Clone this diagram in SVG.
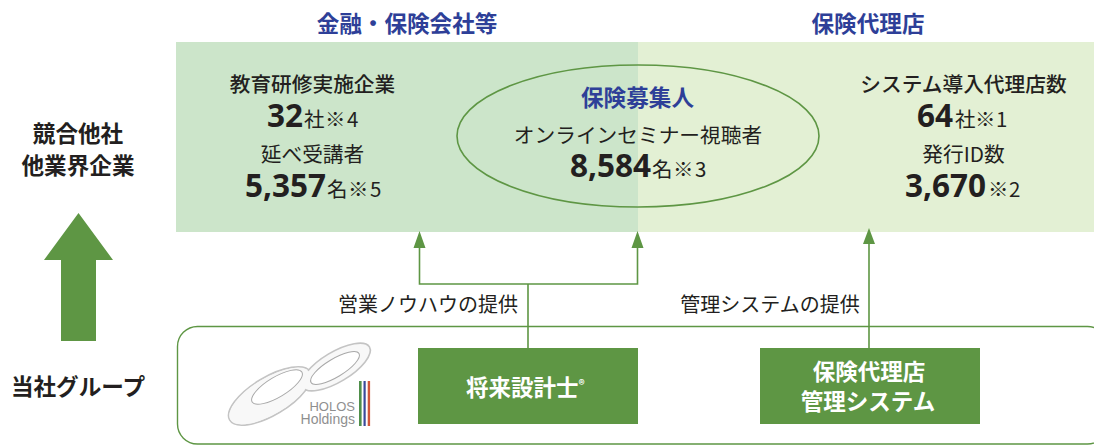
<svg xmlns="http://www.w3.org/2000/svg" width="1094" height="445" viewBox="0 0 1094 445">
<style>
text{font-family:"Noto Sans CJK JP","Noto Sans",sans-serif;fill:#231f20;text-anchor:middle}
.h{font-size:22.6px;font-weight:700;fill:#2e3f98}
.l{font-size:20.7px;font-weight:500}
.m{font-size:20.7px;font-weight:400}
.b{font-size:22.6px;font-weight:700}
.s{text-anchor:start}
.n{font-size:31.5px;font-weight:700;font-family:"Noto Sans","Noto Sans CJK JP",sans-serif}
.u{font-size:20.5px;font-weight:400}
.w{font-size:22.5px;font-weight:700;fill:#fff}
.c{fill:none;stroke:#5e9644;stroke-width:1.6}
.lg{font-family:"Liberation Sans",sans-serif;fill:#8f8f8f;text-anchor:end}
</style>
<g id="panel-left"><rect x="176" y="42" width="462" height="190" fill="#cce5ca"/></g>
<g id="panel-right"><rect x="638" y="42" width="456" height="190" fill="#e3f0d4"/></g>
<g id="title-finance"><text class="h" x="407" y="32">金融・保険会社等</text></g>
<g id="title-agency"><text class="h" x="868" y="32">保険代理店</text></g>
<g id="rival"><text class="b" x="78" y="142">競合他社</text><text class="b" x="78" y="174">他業界企業</text></g>
<g id="up-arrow"><path d="M44 260L78.500 213L113 260H96V341H61V260Z" fill="#5e9644"/></g>
<g id="group-label"><text class="b" x="78" y="395">当社グループ</text></g>
<g id="stats-left">
<text class="l" x="312.500" y="92">教育研修実施企業</text>
<text class="s" y="127"><tspan class="n" x="267">32</tspan><tspan class="u" x="304">社</tspan><tspan class="u" x="325">※</tspan><tspan class="u" x="347">4</tspan></text>
<text class="m" x="312.500" y="162">延べ受講者</text>
<text class="s" y="197"><tspan class="n" x="245">5,357</tspan><tspan class="u" x="327">名</tspan><tspan class="u" x="348">※</tspan><tspan class="u" x="370">5</tspan></text>
</g>
<g id="recruiter">
<ellipse cx="638" cy="136" rx="181" ry="71" fill="none" stroke="#5e9644" stroke-width="1.6"/>
<text class="h" x="637.500" y="106">保険募集人</text>
<text class="m" x="638" y="143">オンラインセミナー視聴者</text>
<text class="s" y="177"><tspan class="n" x="570">8,584</tspan><tspan class="u" x="652">名</tspan><tspan class="u" x="673">※</tspan><tspan class="u" x="695">3</tspan></text>
</g>
<g id="stats-right">
<text class="l" x="963.500" y="92">システム導入代理店数</text>
<text class="s" y="127"><tspan class="n" x="917">64</tspan><tspan class="u" x="955">社</tspan><tspan class="u" x="975">※</tspan><tspan class="u" x="996">1</tspan></text>
<text class="m" x="963.500" y="162">発行ID数</text>
<text class="s" y="197"><tspan class="n" x="905">3,670</tspan><tspan class="u" x="988">※</tspan><tspan class="u" x="1009">2</tspan></text>
</g>
<g id="group-box"><rect x="177.500" y="326.500" width="930" height="117.500" rx="20" fill="#fff" stroke="#5e9644" stroke-width="1.4"/></g>
<g id="logo">
<g transform="rotate(-31 270 396)"><ellipse cx="270" cy="396" rx="47" ry="19" fill="#f8f8f8" stroke="#c4c4c4" stroke-width="1.6"/></g>
<g transform="rotate(-31 336 367)"><ellipse cx="336" cy="367" rx="39" ry="15" fill="#f8f8f8" stroke="#c4c4c4" stroke-width="1.6"/></g>
<g transform="rotate(-31 270 396)"><ellipse cx="270" cy="396" rx="46" ry="18" fill="#f8f8f8"/></g>
<g transform="rotate(-31 277 387)"><ellipse cx="277" cy="387" rx="29" ry="10" fill="#fff" stroke="#a8a8a8" stroke-width="1"/></g>
<g transform="rotate(-31 335 368)"><ellipse cx="335" cy="368" rx="28" ry="9" fill="#fff" stroke="#a8a8a8" stroke-width="1"/></g>
<text class="lg" x="355" y="411" font-size="13">HOLOS</text>
<text class="lg" x="355" y="423.500" font-size="14">Holdings</text>
<rect x="359" y="381" width="2.600" height="45" fill="#4f8f4a"/><rect x="363.500" y="381" width="2.200" height="45" fill="#3a4a9a"/><rect x="367.700" y="381" width="2.400" height="45" fill="#d0563a"/>
</g>
<g id="connectors">
<path class="c" d="M528 348V284H419.500V246M528 284H637.500V246M869 348V242"/>
<path d="M413.500 248L419.500 231L425.500 248Z M631.500 248L637.500 231L643.500 248Z M863 244L869 228L875 244Z" fill="#5e9644"/>
</g>
<g id="edge-labels">
<text class="u" style="font-size:20px" x="428" y="312">営業ノウハウの提供</text>
<text class="u" style="font-size:20px" x="770" y="312">管理システムの提供</text>
</g>
<g id="shorai"><rect x="418" y="348" width="220" height="76" fill="#5e9644"/><text class="w s" x="466" y="396">将来設計士<tspan font-size="12" dy="-7" style="fill:#fff">®</tspan></text></g>
<g id="system"><rect x="760" y="348" width="220" height="76" fill="#5e9644"/><text class="w" x="869" y="380">保険代理店</text><text class="w" x="868" y="410">管理システム</text></g>
</svg>
